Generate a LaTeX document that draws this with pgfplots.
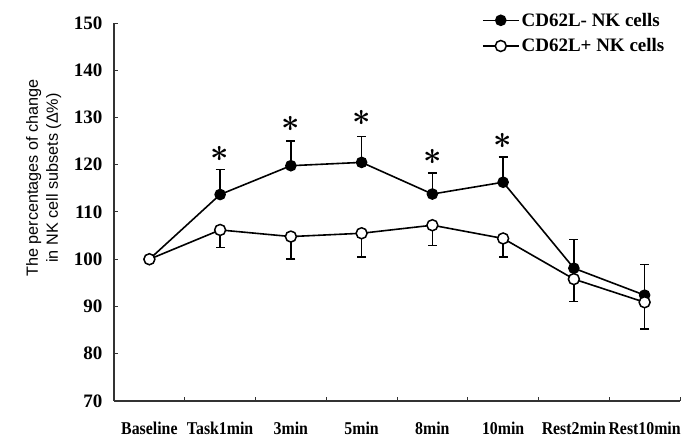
\documentclass[border=0pt]{standalone}
\usepackage{fontspec}
\usepackage{graphicx}
\usepackage{pgfplots}
\pgfplotsset{compat=1.18}
\setmainfont{Liberation Serif}
\newfontfamily\sansf{Liberation Sans}
\newfontfamily\condf[FakeStretch=0.88]{Liberation Serif}
\begin{document}
\begin{tikzpicture}
\begin{axis}[
  name=ax,
  scale only axis,
  width=566pt, height=378pt,
  xmin=-0.5, xmax=7.5,
  ymin=70, ymax=150,
  axis x line=bottom, axis y line=left,
  axis line style={-, line width=1.1pt, black!80},
  tick align=inside,
  major tick length=4pt,
  tick style={line width=1pt, black!80},
  xtick={-0.5,0.5,...,7.5},
  x tick label as interval,
  xticklabels={Baseline,Task1min,3min,5min,8min,10min,Rest2min,Rest10min},
  xticklabel style={font=\condf\bfseries\fontsize{18}{18}\selectfont, yshift=-17pt},
  ytick={70,80,...,150},
  yticklabel style={font=\bfseries\fontsize{19}{19}\selectfont, xshift=-8pt},
  /pgf/number format/assume math mode=true,
  ylabel={The percentages of change\\in NK cell subsets (Δ\%)},
  ylabel style={align=center, font=\sansf\fontsize{16.2}{20}\selectfont,
    at={(axis description cs:-0.087,0.59)}, anchor=south},
  legend style={draw=none, fill=none, font=\bfseries\fontsize{19}{19}\selectfont,
    at={(axis description cs:0.978,1.035)}, anchor=north east,
    row sep=7pt, inner sep=1pt},
  legend cell align=left,
  legend image code/.code={\draw[mark repeat=2,mark phase=2] plot coordinates {(0pt,0pt)(18pt,0pt)(36pt,0pt)};},
  clip=false,
]
\addplot[black, line width=1.6pt, mark=*, mark size=5pt,
  mark options={solid, fill=black},
  error bars/y dir=plus, error bars/y explicit,
  error bars/error mark=-,
  error bars/error bar style={line width=1.6pt, black},
  error bars/error mark options={rotate=90, black, mark size=4.5pt, line width=1.6pt}]
  coordinates {
  (0,100) +- (0,0)
  (1,113.7) +- (0,5.3)
  (2,119.8) +- (0,5.2)
  (3,120.5) +- (0,5.5)
  (4,113.8) +- (0,4.4)
  (5,116.3) +- (0,5.4)
  (6,98.1) +- (0,6.1)
  (7,92.4) +- (0,6.5)
  };
\addlegendentry{CD62L- NK cells}
\addplot[black, line width=1.6pt, mark=*, mark size=5.5pt,
  mark options={solid, fill=white, line width=1.5pt},
  error bars/y dir=minus, error bars/y explicit,
  error bars/error mark=-,
  error bars/error bar style={line width=1.6pt, black},
  error bars/error mark options={rotate=90, black, mark size=4.5pt, line width=1.6pt}]
  coordinates {
  (0,100) +- (0,0)
  (1,106.2) +- (0,3.7)
  (2,104.8) +- (0,4.8)
  (3,105.5) +- (0,5.0)
  (4,107.2) +- (0,4.3)
  (5,104.4) +- (0,3.9)
  (6,95.8) +- (0,4.7)
  (7,90.9) +- (0,5.7)
  };
\addlegendentry{CD62L+ NK cells}
\addplot[draw=none, forget plot,
  nodes near coords={\scalebox{3.2}{\boldmath$\ast$}},
  every node near coord/.append style={anchor=center, inner sep=0pt, black}]
  coordinates {(1,122.3) (2,128.7) (3,129.8) (4,121.6) (5,125.0)};
\end{axis}
\pgfresetboundingbox
\path[use as bounding box] (ax.south west) ++(-114pt,-37pt) rectangle ++(687pt,438pt);
\end{tikzpicture}
\end{document}
